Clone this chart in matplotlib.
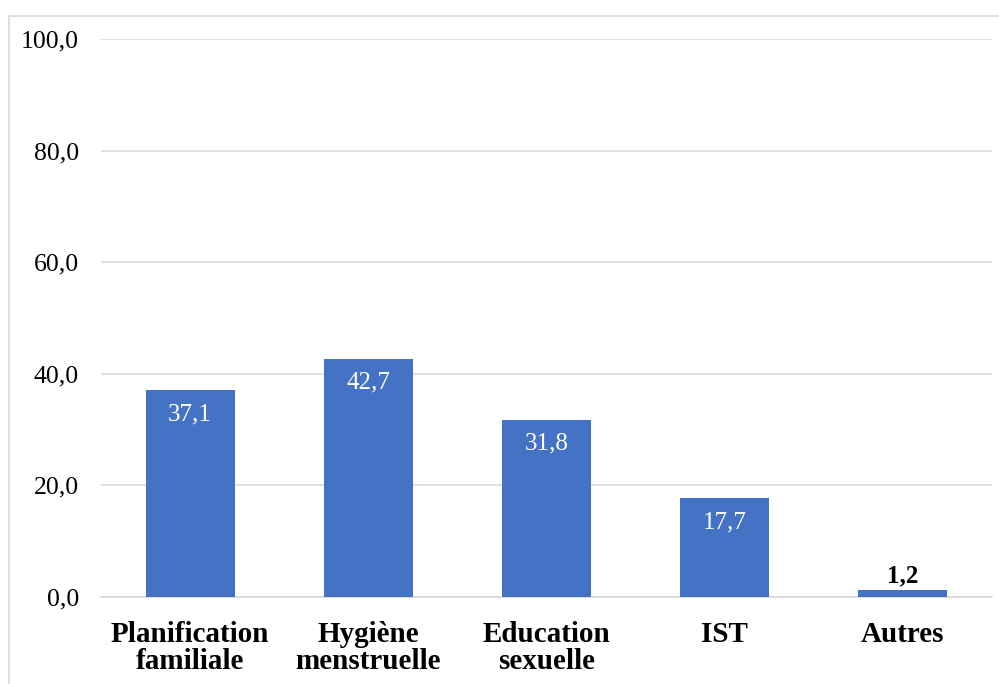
import matplotlib.pyplot as plt
from matplotlib.patches import Rectangle

categories = ["Planification\nfamiliale", "Hygiène\nmenstruelle", "Education\nsexuelle", "IST", "Autres"]
values = [37.1, 42.7, 31.8, 17.7, 1.2]
yticks = [0, 20, 40, 60, 80, 100]

BAR_COLOR = "#4472C4"
GRID_COLOR = "#D9D9D9"

plt.rcParams["font.family"] = ["Liberation Serif", "DejaVu Serif"]

fig = plt.figure(figsize=(9.99, 6.84), dpi=100)
ax = fig.add_axes([101 / 999, 1 - 597 / 684, (992 - 101) / 999, (597 - 39) / 684])

# outer chart frame (cut off at right/bottom in the reference)
fig.patches.append(Rectangle((8.5 / 999, -0.05), 1.2, 1.05 - 15.5 / 684,
                             transform=fig.transFigure, fill=False,
                             edgecolor=GRID_COLOR, linewidth=1.2))

x = range(len(values))
ax.bar(x, values, width=0.5, color=BAR_COLOR, zorder=3)

for i, v in enumerate(values):
    label = f"{v:.1f}".replace(".", ",")
    if v > 5:
        ax.annotate(label, (i, v), xytext=(0, -24), textcoords="offset pixels",
                    ha="center", va="center", color="white", fontsize=18)
    else:
        ax.annotate(label, (i, v), xytext=(0, 14), textcoords="offset pixels",
                    ha="center", va="center", color="black", fontsize=18, fontweight="bold")

ax.set_xlim(-0.5, len(values) - 0.5)
ax.set_ylim(0, 100)
ax.set_yticks(yticks)
ax.set_yticklabels([f"{t:.1f}".replace(".", ",") for t in yticks], fontsize=18.5)
ax.set_xticks(list(x))
ax.set_xticklabels(categories, fontsize=21, fontweight="bold", linespacing=1.0)

ax.tick_params(axis="y", length=0, pad=16)
ax.tick_params(axis="x", length=0, pad=17)
ax.grid(axis="y", color=GRID_COLOR, linewidth=1.2, zorder=0)
ax.set_axisbelow(True)
for side in ("left", "right", "top"):
    ax.spines[side].set_visible(False)
ax.spines["bottom"].set_color(GRID_COLOR)
ax.spines["bottom"].set_linewidth(1.2)

fig.savefig("out.png", dpi=100)
